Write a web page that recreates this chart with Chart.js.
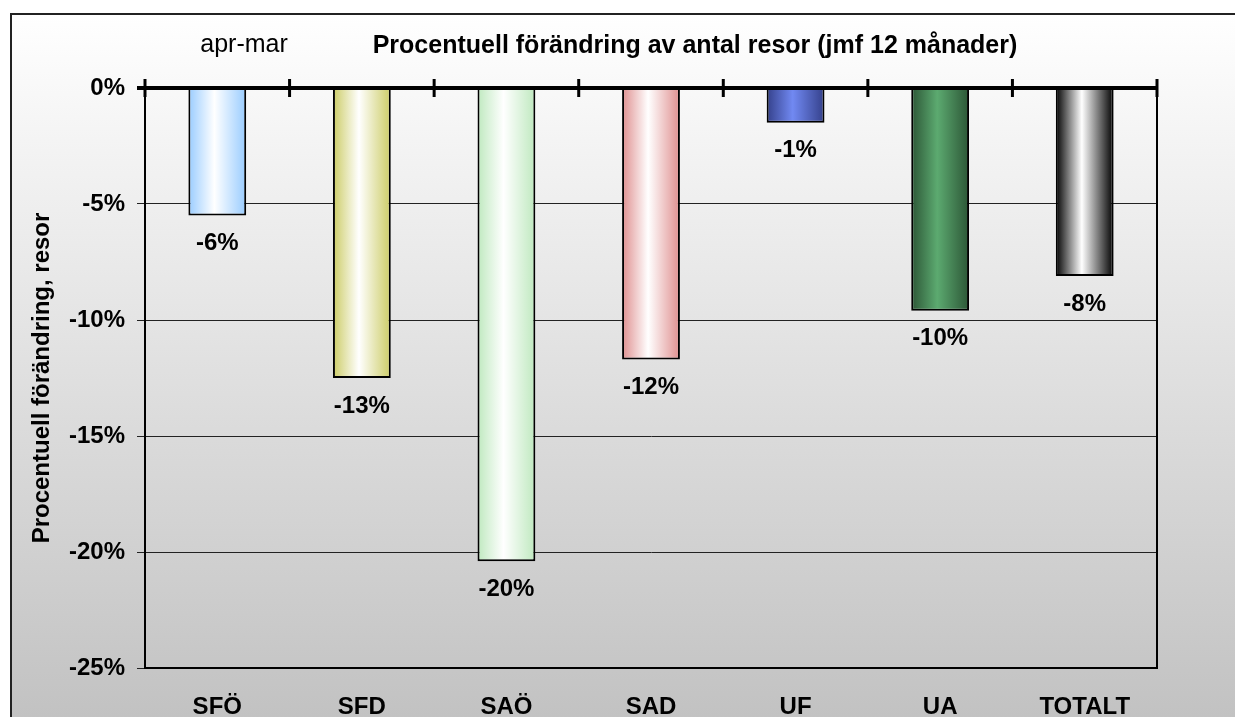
<!DOCTYPE html>
<html>
<head>
<meta charset="utf-8">
<script src="https://cdn.jsdelivr.net/npm/chart.js@4"></script>
<style>
  html, body { margin: 0; padding: 0; background: #fff; }
  #wrap { width: 1235px; height: 717px; }
</style>
</head>
<body>
<div id="wrap"><canvas id="chart"></canvas></div>
<script>
const categories = ['SFÖ', 'SFD', 'SAÖ', 'SAD', 'UF', 'UA', 'TOTALT'];
const changes = [-5.5, -12.5, -20.4, -11.7, -1.5, -9.6, -8.1];
const valueLabels = ['-6%', '-13%', '-20%', '-12%', '-1%', '-10%', '-8%'];
const yTicks = [0, -5, -10, -15, -20, -25];

const edgeColors = ['#99ccff', '#cccc66', '#bfe9bf', '#df8f8f', '#34408a', '#2c5636', '#000000'];
const midColors = ['#ffffff', '#ffffff', '#ffffff', '#ffffff', '#7189f2', '#5caa70', '#ffffff'];

const FONT = 'Liberation Sans, Arial, sans-serif';
const BAR_PCT = 0.4;

function barFill(ctx) {
    const chart = ctx.chart;
    const xs = chart.scales.x;
    const i = ctx.dataIndex;
    if (!xs || i === undefined) return edgeColors[0];
    const cx = xs.getPixelForValue(i);
    const w = (xs.width / categories.length) * BAR_PCT;
    if (!isFinite(cx) || !isFinite(w) || w <= 0) return edgeColors[i];
    const g = chart.ctx.createLinearGradient(cx - w / 2, 0, cx + w / 2, 0);
    g.addColorStop(0, edgeColors[i]);
    g.addColorStop(0.45, midColors[i]);
    g.addColorStop(1, edgeColors[i]);
    return g;
}

const decor = {
    id: 'decor',
    beforeDraw(chart) {
        const c = chart.ctx;
        c.save();
        c.fillStyle = '#fff';
        c.fillRect(0, 0, chart.width, chart.height);
        const g = c.createLinearGradient(0, 13, 0, chart.height);
        g.addColorStop(0, '#ffffff');
        g.addColorStop(1, '#c2c2c2');
        c.fillStyle = g;
        c.fillRect(10, 13, chart.width - 10, chart.height - 13);
        c.strokeStyle = '#222';
        c.lineWidth = 2;
        c.beginPath();
        c.moveTo(11, chart.height);
        c.lineTo(11, 14);
        c.lineTo(chart.width, 14);
        c.stroke();
        // titles
        c.fillStyle = '#000';
        c.textBaseline = 'middle';
        c.textAlign = 'center';
        c.font = 'bold 25px ' + FONT;
        c.fillText('Procentuell förändring av antal resor (jmf 12 månader)', 695, 46);
        c.font = '25px ' + FONT;
        c.fillText('apr-mar', 244, 45);
        c.restore();
    },
    afterDatasetsDraw(chart) {
        const c = chart.ctx;
        const xs = chart.scales.x, ys = chart.scales.y;
        const area = chart.chartArea;
        c.save();
        // right border
        c.strokeStyle = '#000';
        c.lineWidth = 2;
        c.beginPath();
        c.moveTo(area.right, ys.getPixelForValue(0));
        c.lineTo(area.right, area.bottom + 1);
        c.stroke();
        // zero line with category ticks
        const y0 = ys.getPixelForValue(0);
        c.lineWidth = 4;
        c.beginPath();
        c.moveTo(area.left - 8, y0);
        c.lineTo(area.right + 1, y0);
        c.stroke();
        c.lineWidth = 3;
        const step = xs.width / categories.length;
        for (let k = 0; k <= categories.length; k++) {
            const x = xs.getPixelForValue(k) - step / 2;
            c.beginPath();
            c.moveTo(x, y0 - 9);
            c.lineTo(x, y0 + 9);
            c.stroke();
        }
        // value labels
        c.fillStyle = '#000';
        c.font = 'bold 24px ' + FONT;
        c.textAlign = 'center';
        c.textBaseline = 'middle';
        chart.getDatasetMeta(0).data.forEach((el, i) => {
            c.fillText(valueLabels[i], el.x, el.y + 28);
        });
        c.restore();
    }
};

new Chart(document.getElementById('chart'), {
    type: 'bar',
    data: {
        labels: categories,
        datasets: [{
            data: changes,
            backgroundColor: barFill,
            borderColor: '#000',
            borderWidth: 2,
            categoryPercentage: 1,
            barPercentage: BAR_PCT
        }]
    },
    options: {
        responsive: true,
        maintainAspectRatio: false,
        animation: false,
        layout: { padding: { left: 0, top: 88, right: 78, bottom: 0 } },
        plugins: {
            legend: { display: false },
            tooltip: { enabled: false }
        },
        scales: {
            x: {
                grid: { display: false, drawTicks: false },
                border: { display: true, color: '#000', width: 2 },
                ticks: {
                    color: '#000',
                    font: { family: FONT, size: 24, weight: 'bold' },
                    padding: 25
                },
                afterFit(scale) { scale.height = 49; }
            },
            y: {
                min: -25,
                max: 0,
                afterBuildTicks(scale) { scale.ticks = yTicks.map(v => ({ value: v })); },
                grid: {
                    color: ctx => ctx.tick && ctx.tick.value === 0 ? 'rgba(0,0,0,0)' : '#222',
                    lineWidth: 1,
                    tickLength: 8,
                    tickColor: '#222'
                },
                border: { display: true, color: '#000', width: 2 },
                ticks: {
                    color: '#000',
                    font: { family: FONT, size: 24, weight: 'bold' },
                    padding: 12,
                    callback: v => v + '%'
                },
                title: {
                    display: true,
                    text: 'Procentuell förändring, resor',
                    color: '#000',
                    font: { family: FONT, size: 24, weight: 'bold' },
                    padding: { top: 28, bottom: 0 }
                },
                afterFit(scale) { scale.width = 145; }
            }
        }
    },
    plugins: [decor]
});
</script>
</body>
</html>
